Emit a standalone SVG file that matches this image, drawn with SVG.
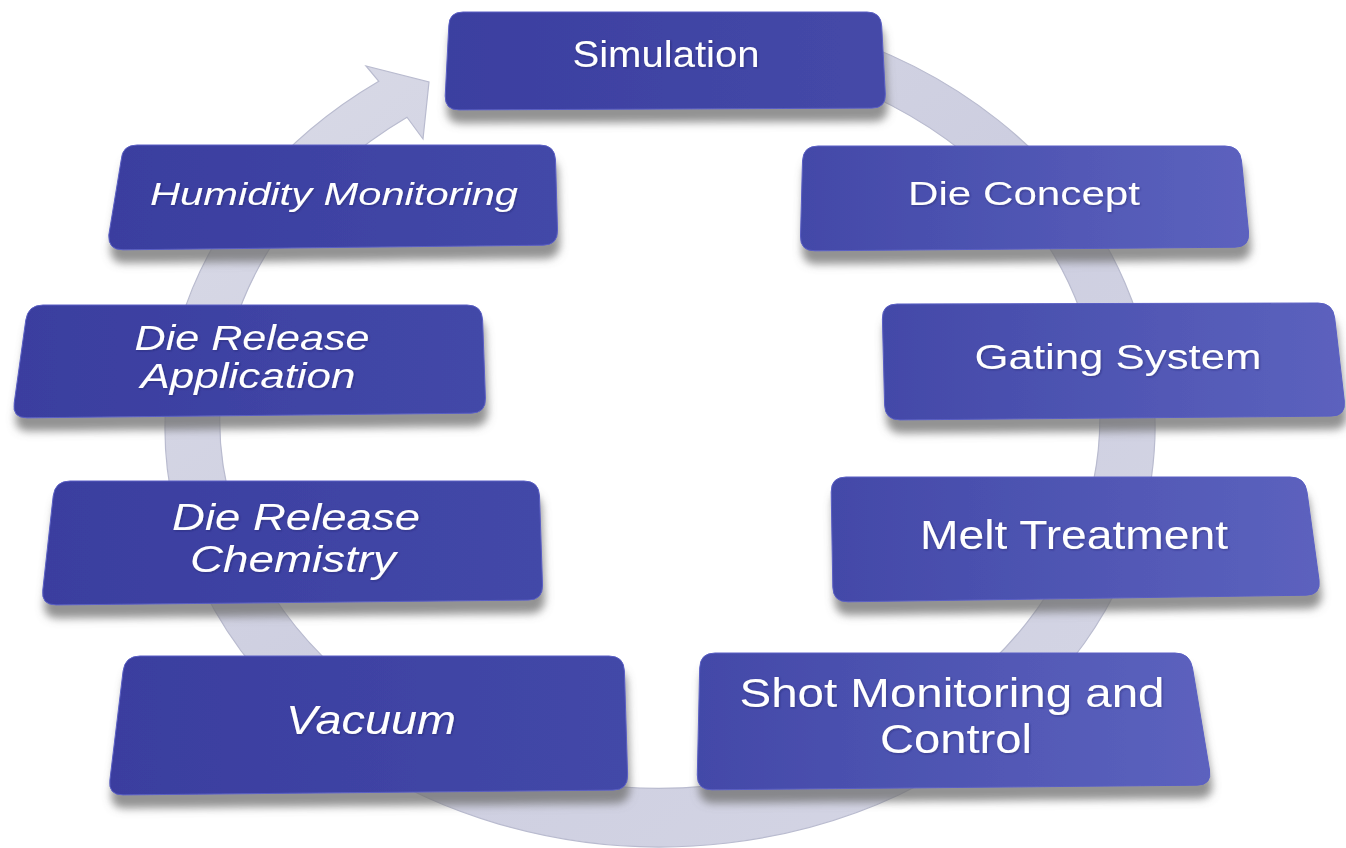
<svg xmlns="http://www.w3.org/2000/svg" width="1346" height="848" viewBox="0 0 1346 848">
  <defs>
    <linearGradient id="ringGrad" x1="0" y1="0" x2="1" y2="1">
      <stop offset="0" stop-color="#dadbe7"/>
      <stop offset="0.5" stop-color="#cdcee0"/>
      <stop offset="1" stop-color="#d5d6e5"/>
    </linearGradient>
    <linearGradient id="gL" x1="0" y1="0" x2="1" y2="0">
      <stop offset="0" stop-color="#3a3e9f"/>
      <stop offset="1" stop-color="#4348a8"/>
    </linearGradient>
    <linearGradient id="gR" x1="0" y1="0" x2="1" y2="0">
      <stop offset="0" stop-color="#4349a8"/>
      <stop offset="1" stop-color="#5c62be"/>
    </linearGradient>
    <linearGradient id="gT" x1="0" y1="0" x2="1" y2="0">
      <stop offset="0" stop-color="#3b3fa0"/>
      <stop offset="1" stop-color="#4549a8"/>
    </linearGradient>
    <filter id="shadow" x="-10%" y="-20%" width="120%" height="160%">
      <feGaussianBlur in="SourceAlpha" stdDeviation="4"/>
      <feOffset dx="2" dy="13" result="b"/>
      <feFlood flood-color="#6e6e6e" flood-opacity="0.75"/>
      <feComposite in2="b" operator="in"/>
      <feMerge>
        <feMergeNode/>
        <feMergeNode in="SourceGraphic"/>
      </feMerge>
    </filter>
    <filter id="ts" x="-5%" y="-20%" width="110%" height="140%">
      <feGaussianBlur in="SourceAlpha" stdDeviation="0.8"/>
      <feOffset dx="0.8" dy="1.2" result="o"/>
      <feFlood flood-color="#1a1a50" flood-opacity="0.4"/>
      <feComposite in2="o" operator="in"/>
      <feMerge>
        <feMergeNode/>
        <feMergeNode in="SourceGraphic"/>
      </feMerge>
    </filter>
  </defs>
  <style>
    .box { stroke: #5a5fc4; stroke-width: 1; }
    .bL { fill: url(#gL); }
    .bR { fill: url(#gR); }
    .bT { fill: url(#gT); }
    .t { fill: #ffffff; font-family: "Liberation Sans", Arial, sans-serif; text-anchor: middle; }
    .i { font-style: italic; }
  </style>
  <rect width="1346" height="848" fill="#ffffff"/>

  <g id="connectors">
    <path d="M820,29.5 A495,420 0 1 1 378.8,81.3 L366,66 L429,82 L423,139 L407,117.2 A440,369 0 1 0 830,79 Z" fill="url(#ringGrad)" stroke="#b9bbcf" stroke-width="1.2"/>
  </g>

  <g id="node-simulation" filter="url(#shadow)">
    <path class="box bT" d="M463,12 L867,12 Q881,12 881.7,26 L885.3,94 Q886,108 872,108.1 L459,109.9 Q445,110 445.2,96 L448.8,26 Q449,12 463,12 Z"/>
    <text class="t" x="666" y="67" font-size="36" textLength="187" lengthAdjust="spacingAndGlyphs" filter="url(#ts)">Simulation</text>
  </g>

  <g id="node-die-concept" filter="url(#shadow)">
    <path class="box bR" d="M818,146 L1225,146 Q1240,146 1241.5,161 L1248.5,232 Q1250,247 1235,247.2 L815,250.8 Q800,251 800.5,236 L802.5,161 Q803,146 818,146 Z"/>
    <text class="t" x="1024" y="205" font-size="34" textLength="232" lengthAdjust="spacingAndGlyphs" filter="url(#ts)">Die Concept</text>
  </g>

  <g id="node-gating-system" filter="url(#shadow)">
    <path class="box bR" d="M897,304 L1318,303 Q1333,303 1334.7,318 L1344.3,401 Q1346,416 1331,416.1 L900,419.9 Q885,420 884.6,405 L882.4,319 Q882,304 897,304 Z"/>
    <text class="t" x="1118" y="369" font-size="35" textLength="287" lengthAdjust="spacingAndGlyphs" filter="url(#ts)">Gating System</text>
  </g>

  <g id="node-melt-treatment" filter="url(#shadow)">
    <path class="box bR" d="M846,477 L1290,477 Q1305,477 1307,492 L1319,580 Q1321,595 1306,595.2 L848,601.8 Q833,602 832.8,587 L831.2,492 Q831,477 846,477 Z"/>
    <text class="t" x="1074" y="549" font-size="40" textLength="308" lengthAdjust="spacingAndGlyphs" filter="url(#ts)">Melt Treatment</text>
  </g>

  <g id="node-shot-monitoring" filter="url(#shadow)">
    <path class="box bR" d="M715,653 L1175,653 Q1190,653 1192.5,668 L1209.5,770 Q1212,785 1197,785.2 L712,789.8 Q697,790 697.3,775 L699.7,668 Q700,653 715,653 Z"/>
    <text class="t" x="952" y="707" font-size="41" textLength="425" lengthAdjust="spacingAndGlyphs" filter="url(#ts)">Shot Monitoring and</text>
    <text class="t" x="956" y="753" font-size="41" textLength="152" lengthAdjust="spacingAndGlyphs" filter="url(#ts)">Control</text>
  </g>

  <g id="node-vacuum" filter="url(#shadow)">
    <path class="box bL" d="M140,656 L609,656 Q624,656 624.4,671 L627.6,775 Q628,790 613,790.1 L123,794.9 Q108,795 109.9,780 L123.1,671 Q125,656 140,656 Z"/>
    <text class="t i" x="371" y="734" font-size="40" textLength="170" lengthAdjust="spacingAndGlyphs" filter="url(#ts)">Vacuum</text>
  </g>

  <g id="node-die-release-chemistry" filter="url(#shadow)">
    <path class="box bL" d="M70,481 L524,481 Q539,481 539.5,496 L542.5,585 Q543,600 528,600.1 L56,604.9 Q41,605 42.8,590 L53.2,496 Q55,481 70,481 Z"/>
    <text class="t i" x="296" y="530" font-size="37" textLength="248" lengthAdjust="spacingAndGlyphs" filter="url(#ts)">Die Release</text>
    <text class="t i" x="293" y="572" font-size="37" textLength="206" lengthAdjust="spacingAndGlyphs" filter="url(#ts)">Chemistry</text>
  </g>

  <g id="node-die-release-application" filter="url(#shadow)">
    <path class="box bL" d="M43,305 L467,305 Q482,305 482.6,320 L485.4,398 Q486,413 471,413.2 L27,417.8 Q12,418 14.2,403 L25.8,320 Q28,305 43,305 Z"/>
    <text class="t i" x="252" y="350" font-size="35" textLength="235" lengthAdjust="spacingAndGlyphs" filter="url(#ts)">Die Release</text>
    <text class="t i" x="248" y="388" font-size="35" textLength="215" lengthAdjust="spacingAndGlyphs" filter="url(#ts)">Application</text>
  </g>

  <g id="node-humidity-monitoring" filter="url(#shadow)">
    <path class="box bL" d="M137,145 L540,145 Q555,145 555.5,160 L557.5,230 Q558,245 543,245.2 L123,249.8 Q108,250 108.8,235 L121.2,160 Q122,145 137,145 Z"/>
    <text class="t i" x="334" y="205" font-size="32" textLength="368" lengthAdjust="spacingAndGlyphs" filter="url(#ts)">Humidity Monitoring</text>
  </g>
</svg>
